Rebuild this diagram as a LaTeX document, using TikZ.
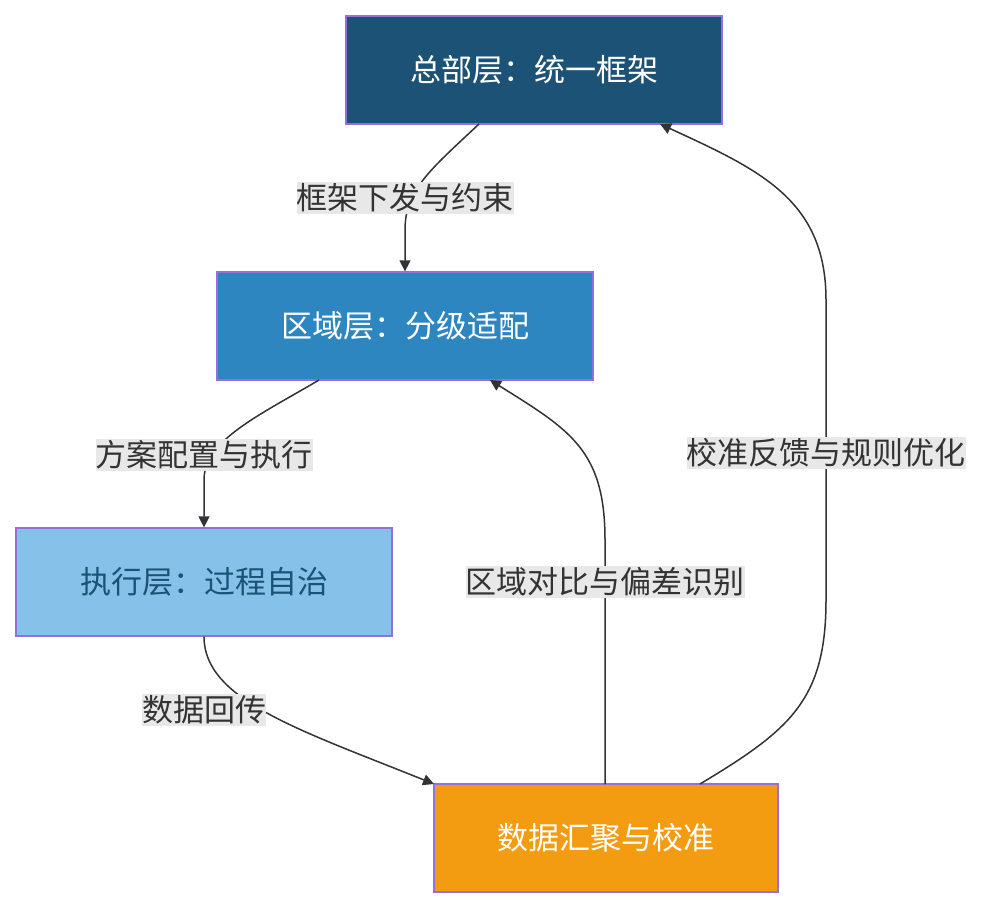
\documentclass[tikz,border=0pt]{standalone}
\usepackage{fontspec}
\setmainfont{Noto Sans CJK SC}
\usetikzlibrary{arrows.meta}
\definecolor{bord}{HTML}{9370DB}
\definecolor{c1}{HTML}{1B5276}
\definecolor{c2}{HTML}{2E86C1}
\definecolor{c3}{HTML}{85C1E9}
\definecolor{c4}{HTML}{F39C12}
\definecolor{lbl}{HTML}{E8E8E8}
\definecolor{txt}{HTML}{333333}
\tikzset{
 box/.style={draw=bord,line width=1.3pt,minimum width=376pt,minimum height=108pt,inner sep=0pt,font=\fontsize{31pt}{36pt}\selectfont},
 lab/.style={fill=lbl,text=txt,inner xsep=0pt,inner ysep=2pt,font=\fontsize{31pt}{36pt}\selectfont},
 conn/.style={draw=txt,line width=1.5pt,-{Triangle[length=11pt,width=11pt]}}
}
\begin{document}
\begin{tikzpicture}[x=1pt,y=-1pt]
\useasboundingbox (0,0) rectangle (987,908);
\node[box,fill=c1,text=white] (top) at (534,70) {总部层：统一框架};
\node[box,fill=c2,text=white] (reg) at (405,326) {区域层：分级适配};
\node[box,fill=c3,text=c1] (exe) at (204,582) {执行层：过程自治};
\node[box,fill=c4,text=white,minimum width=344pt] (dat) at (606,838) {数据汇聚与校准};
\draw[conn] (479,124) .. controls (430,170) and (405,190) .. (405,230) -- (reg.north);
\draw[conn] (319,380) .. controls (260,415) and (204,440) .. (204,480) -- (exe.north);
\draw[conn] (exe.south) .. controls (204,700) and (300,730) .. (434,784);
\draw[conn] (605,784) -- (605,540) .. controls (605,450) and (570,430) .. (490,380);
\draw[conn] (700,784) .. controls (790,730) and (826,700) .. (826,600) -- (826,300) .. controls (826,200) and (760,170) .. (660,124);
\node[lab] (l1) at (405,198) {框架下发与约束};
\node[lab] (l2) at (204,455) {方案配置与执行};
\node[lab] (l3) at (204,710) {数据回传};
\node[lab] (l4) at (605,582) {区域对比与偏差识别};
\node[lab] (l5) at (826,453) {校准反馈与规则优化};
\end{tikzpicture}
\end{document}
